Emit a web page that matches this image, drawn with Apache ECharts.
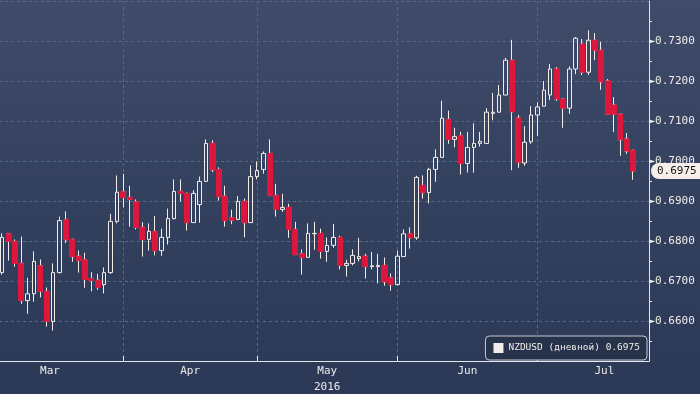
<!DOCTYPE html>
<html>
<head>
<meta charset="utf-8">
<script src="https://cdn.jsdelivr.net/npm/echarts@6/dist/echarts.min.js"></script>
<style>
html,body{margin:0;padding:0;width:700px;height:394px;overflow:hidden;
background:linear-gradient(to bottom,#3f4b68 0%,#35425f 45%,#2b3856 100%);}
#c{width:700px;height:394px;}
</style>
</head>
<body>
<div id="c"></div>
<script>
const dates = [
 '2016-03-07','2016-03-08','2016-03-09','2016-03-10','2016-03-11','2016-03-14','2016-03-15','2016-03-16','2016-03-17','2016-03-18',
 '2016-03-21','2016-03-22','2016-03-23','2016-03-24','2016-03-25','2016-03-28','2016-03-29','2016-03-30','2016-03-31',
 '2016-04-01','2016-04-04','2016-04-05','2016-04-06','2016-04-07','2016-04-08','2016-04-11','2016-04-12','2016-04-13','2016-04-14',
 '2016-04-15','2016-04-18','2016-04-19','2016-04-20','2016-04-21','2016-04-22','2016-04-25','2016-04-26','2016-04-27','2016-04-28','2016-04-29',
 '2016-05-02','2016-05-03','2016-05-04','2016-05-05','2016-05-06','2016-05-09','2016-05-10','2016-05-11','2016-05-12','2016-05-13',
 '2016-05-16','2016-05-17','2016-05-18','2016-05-19','2016-05-20','2016-05-23','2016-05-24','2016-05-25','2016-05-26','2016-05-27','2016-05-30','2016-05-31',
 '2016-06-01','2016-06-02','2016-06-03','2016-06-06','2016-06-07','2016-06-08','2016-06-09','2016-06-10','2016-06-13','2016-06-14',
 '2016-06-15','2016-06-16','2016-06-17','2016-06-20','2016-06-21','2016-06-22','2016-06-23','2016-06-24','2016-06-27','2016-06-28','2016-06-29','2016-06-30',
 '2016-07-01','2016-07-04','2016-07-05','2016-07-06','2016-07-07','2016-07-08','2016-07-11','2016-07-12','2016-07-13','2016-07-14',
 '2016-07-15','2016-07-18','2016-07-19','2016-07-20','2016-07-21','2016-07-22'
];
const open = [
 0.6721,0.6818,0.6799,0.6744,0.6651,0.6668,0.6738,0.6674,0.6599,0.6721,
 0.6853,0.6804,0.6762,0.6753,0.6706,0.6702,0.6691,0.6721,0.6849,0.6923,
 0.6909,0.6898,0.6834,0.6804,0.6824,0.6776,0.6809,0.6856,0.6924,0.6919,
 0.6846,0.6891,0.6949,0.7044,0.6979,0.6912,0.6858,0.6854,0.6899,0.6846,
 0.6961,0.6979,0.7019,0.6914,0.6879,0.6884,0.6829,0.6768,0.6759,0.6818,
 0.6819,0.6774,0.6789,0.6809,0.6739,0.6744,0.6756,0.6762,0.6736,0.6736,
 0.6739,0.6708,0.6691,0.6761,0.6818,0.6808,0.6939,0.6921,0.6979,0.7009,
 0.7104,0.7054,0.7063,0.6994,0.7034,0.7044,0.7044,0.7119,0.7122,0.7165,
 0.7252,0.7107,0.6995,0.7048,0.7115,0.7137,0.7165,0.7230,0.7155,0.7132,
 0.7230,0.7292,0.7222,0.7302,0.7277,0.7200,0.7140,0.7117,0.7055,0.7027
];
const close = [
 0.6809,0.6799,0.6744,0.6651,0.6668,0.6749,0.6674,0.6599,0.6721,0.6851,
 0.6803,0.6761,0.6751,0.6704,0.6701,0.6684,0.6721,0.6849,0.6922,0.6909,
 0.6904,0.6834,0.6804,0.6824,0.6776,0.6809,0.6856,0.6924,0.6919,0.6846,
 0.6919,0.6949,0.7044,0.6978,0.6911,0.6851,0.6852,0.6899,0.6846,0.6961,
 0.6976,0.7019,0.6914,0.6879,0.6884,0.6829,0.6766,0.6759,0.6819,0.6819,
 0.6774,0.6789,0.6809,0.6739,0.6744,0.6764,0.6761,0.6736,0.6738,0.6739,
 0.6698,0.6691,0.6762,0.6818,0.6808,0.6959,0.6921,0.6979,0.7009,0.7107,
 0.7054,0.7061,0.6994,0.7034,0.7044,0.7049,0.7122,0.7122,0.7165,0.7252,
 0.7123,0.6997,0.7047,0.7115,0.7135,0.7177,0.7230,0.7155,0.7132,0.7230,
 0.7307,0.7222,0.7302,0.7277,0.7198,0.7117,0.7117,0.7053,0.7025,0.6975
];
const low = [
 0.6716,0.6751,0.6736,0.6643,0.6618,0.6648,0.6659,0.6586,0.6576,0.6719,
 0.6795,0.6748,0.6721,0.6683,0.6674,0.6678,0.6669,0.6718,0.6844,0.6884,
 0.6836,0.6829,0.6761,0.6776,0.6764,0.6763,0.6791,0.6854,0.6899,0.6826,
 0.6846,0.6846,0.6949,0.6972,0.6901,0.6836,0.6842,0.6852,0.6809,0.6846,
 0.6954,0.6968,0.6912,0.6861,0.6873,0.6808,0.6766,0.6716,0.6759,0.6778,
 0.6756,0.6748,0.6783,0.6729,0.6711,0.6739,0.6749,0.6706,0.6729,0.6694,
 0.6688,0.6676,0.6689,0.6761,0.6781,0.6803,0.6906,0.6894,0.6948,0.7009,
 0.7043,0.7034,0.6966,0.6971,0.6971,0.7036,0.7044,0.7102,0.7122,0.7165,
 0.6977,0.6983,0.6988,0.7043,0.7062,0.7137,0.7152,0.7150,0.7083,0.7118,
 0.7217,0.7215,0.7215,0.7252,0.7178,0.7117,0.7072,0.7013,0.7018,0.6953
];
const high = [
 0.6819,0.6820,0.6804,0.6811,0.6708,0.6774,0.6754,0.6684,0.6744,0.6861,
 0.6874,0.6806,0.6776,0.6771,0.6722,0.6718,0.6734,0.6868,0.6964,0.6968,
 0.6938,0.6904,0.6847,0.6844,0.6862,0.6831,0.6881,0.6954,0.6954,0.6921,
 0.6927,0.6961,0.7054,0.7052,0.6984,0.6938,0.6878,0.6912,0.6906,0.6989,
 0.6999,0.7024,0.7054,0.6943,0.6918,0.6893,0.6848,0.6779,0.6844,0.6848,
 0.6831,0.6809,0.6843,0.6813,0.6753,0.6779,0.6808,0.6768,0.6773,0.6768,
 0.6759,0.6719,0.6776,0.6829,0.6834,0.6963,0.6964,0.6983,0.7029,0.7151,
 0.7126,0.7083,0.7073,0.7073,0.7094,0.7073,0.7132,0.7170,0.7190,0.7258,
 0.7303,0.7115,0.7087,0.7137,0.7147,0.7200,0.7243,0.7235,0.7157,0.7237,
 0.7310,0.7305,0.7327,0.7320,0.7298,0.7205,0.7160,0.7117,0.7070,0.7027
];
const monthPrefixes = ['2016-03','2016-04','2016-05','2016-06','2016-07'];
const monthLabels = ['Mar','Apr','May\n2016','Jun','Jul'];
const monthTradingDays = [23, 21, 22, 22, 21];
const padSlots = ['pad1', 'pad2'];

const lastPrice = close[close.length - 1];
const seriesName = 'NZDUSD (дневной) ' + lastPrice.toFixed(4);

const starts = monthPrefixes.map(p => dates.findIndex(d => d.startsWith(p)));
starts[0] = starts[1] - monthTradingDays[0];
const ends = starts.map((s, i) => i < starts.length - 1 ? starts[i + 1] : s + monthTradingDays[i]);
const centers = starts.map((s, i) => (s + ends[i]) / 2);
const boundaryTicks = starts.slice(1);

const cats = dates.concat(padSlots);
const allCandles = dates.map((d, i) => [open[i], close[i], low[i], high[i]]);
const downBodies = dates.map((d, i) => close[i] < open[i]
  ? [open[i], close[i], close[i], open[i]] : ['-', '-', '-', '-']);

const FONT = 'DejaVu Sans Mono';
const WHITE = '#f3ece9';
const RED = '#dd173c';
const GRID = '#566a86';
const AXIS = '#e4e7ee';

const chart = echarts.init(document.getElementById('c'), null, {renderer: 'canvas'});
chart.setOption({
  animation: false,
  backgroundColor: 'transparent',
  grid: {left: -1, right: 51, top: 1, bottom: 33, containLabel: false, outerBoundsMode: 'none'},
  legend: {
    right: 53, bottom: 34,
    padding: [7, 7, 7, 8],
    backgroundColor: '#27324b',
    borderColor: '#c5c9d2', borderWidth: 1, borderRadius: 4,
    itemWidth: 10, itemHeight: 10, itemGap: 4,
    textStyle: {color: '#f0ecea', fontFamily: FONT, fontSize: 9.5},
    data: [{name: seriesName, icon: 'rect', itemStyle: {color: WHITE, borderWidth: 0}}]
  },
  xAxis: [
    {type: 'category', data: cats, boundaryGap: true, show: false, gridIndex: 0},
    {
      type: 'value', gridIndex: 0, min: -0.5, max: cats.length - 0.5, position: 'bottom',
      axisLine: {show: true, onZero: false, lineStyle: {color: AXIS, width: 1}},
      axisTick: {show: true, inside: true, length: 5, customValues: boundaryTicks, lineStyle: {color: AXIS}},
      axisLabel: {
        show: true, customValues: centers, margin: 2, color: '#ecebea',
        fontFamily: FONT, fontSize: 11, lineHeight: 16,
        formatter: v => {
          let best = 0;
          centers.forEach((c, i) => { if (Math.abs(c - v) < Math.abs(centers[best] - v)) best = i; });
          return monthLabels[best];
        }
      },
      splitLine: {show: true, lineStyle: {color: GRID, type: [3, 3], width: 1}}
    }
  ],
  yAxis: [
    {
      type: 'value', position: 'right', min: 0.65, max: 0.74, interval: 0.01,
      axisLine: {show: true, onZero: false, lineStyle: {color: AXIS, width: 1}},
      axisTick: {show: false},
      minorTick: {show: true, splitNumber: 2, length: 3, lineStyle: {color: AXIS}},
      splitLine: {show: true, lineStyle: {color: GRID, type: [3, 3], width: 1}},
      axisLabel: {
        margin: 0, color: '#efedeb', fontFamily: FONT, fontSize: 11,
        formatter: v => (v > 0.7399 || v < 0.6551) ? '' : '{a|►}' + v.toFixed(4),
        rich: {a: {color: '#efedeb', fontFamily: FONT, fontSize: 10}}
      }
    },
    {
      type: 'value', position: 'right', offset: 0, min: 0.65, max: 0.74,
      axisLine: {show: false, onZero: false}, axisTick: {show: false}, splitLine: {show: false},
      axisLabel: {
        customValues: [lastPrice], margin: 2,
        formatter: v => '{b|' + v.toFixed(4) + '}',
        rich: {b: {backgroundColor: '#f6eee9', color: '#141414', fontFamily: FONT, fontSize: 11,
                   padding: [3, 4, 2, 6], borderRadius: [8, 0, 0, 8]}}
      }
    }
  ],
  series: [
    {
      name: seriesName, type: 'candlestick', xAxisIndex: 0, yAxisIndex: 0,
      data: allCandles, barWidth: 4, z: 2,
      itemStyle: {color: 'transparent', color0: RED, borderColor: WHITE, borderColor0: WHITE, borderWidth: 1}
    },
    {
      name: seriesName, type: 'candlestick', xAxisIndex: 0, yAxisIndex: 0,
      data: downBodies, barWidth: 5.6, z: 3,
      itemStyle: {color: RED, color0: RED, borderColor: RED, borderColor0: RED, borderWidth: 1}
    }
  ]
});
</script>
</body>
</html>
